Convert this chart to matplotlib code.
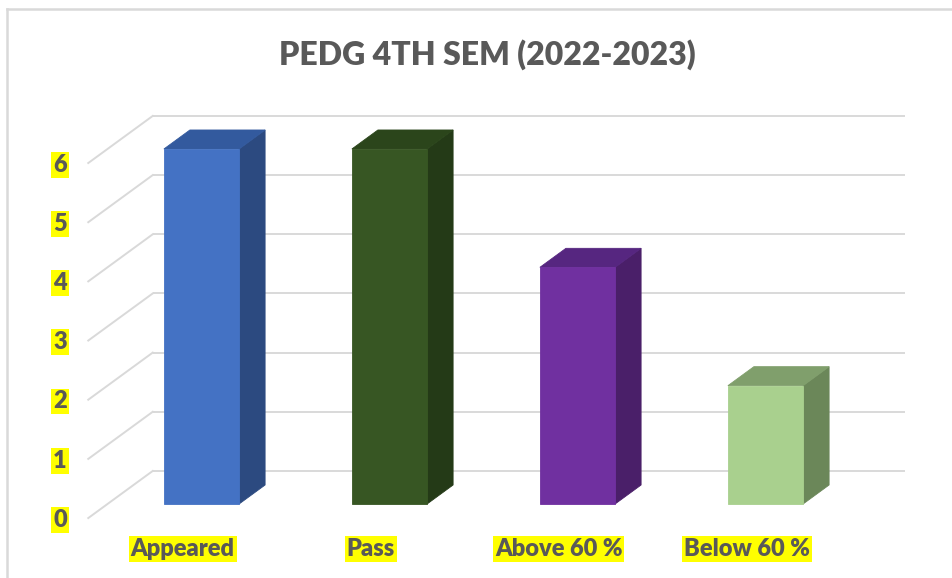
import numpy as np
import matplotlib
matplotlib.use("Agg")
import matplotlib.pyplot as plt
from matplotlib.patches import Polygon

categories = ["Appeared", "Pass", "Above 60 %", "Below 60 %"]
values = [6, 6, 4, 2]
yticks = [0, 1, 2, 3, 4, 5, 6]
title = "PEDG 4TH SEM (2022-2023)"

front_colors = ["#4472C4", "#375623", "#7030A0", "#A9D08E"]
side_colors = ["#2C4A80", "#243A17", "#4A1F69", "#6B8759"]
top_colors = ["#335A9E", "#2B451B", "#562680", "#809F6C"]

W, H = 953, 578
fig = plt.figure(figsize=(W / 100, H / 100), dpi=100)
ax = fig.add_axes([0, 0, 1, 1])

# pixel layout -> data units (one category = 188 px, one unit = 59.17 px)
px_cat, px_val = 188.0, 59.17
x0_px, y0_px = 201.5, 504.0
ax.set_xlim((0 - x0_px) / px_cat, (W - x0_px) / px_cat)
ax.set_ylim((y0_px - H) / px_val, y0_px / px_val)
ax.axis("off")

# depth vector of one bar (26 px right, 19 px up)
dx, dy = 26 / px_cat, 19 / px_val
k_back, k_front = 1.74, -0.74
grid_c = "#D9D9D9"
xl, xr = -0.5, 3.5
lab = dict(fontsize=17, fontweight="heavy", color="#595959", family="Lato",
           bbox=dict(boxstyle="square,pad=0.08", fc="#FFFF00", ec="none"),
           zorder=3)

for v in yticks:
    ax.plot([xl + k_back * dx, xr + k_back * dx], [v + k_back * dy] * 2,
            color=grid_c, lw=1.4, zorder=1, solid_capstyle="butt")
    ax.plot([xl + k_front * dx, xl + k_back * dx],
            [v + k_front * dy, v + k_back * dy],
            color=grid_c, lw=1.4, zorder=1)
    ax.text(-0.753, v + k_front * dy - 0.03, str(v), ha="center", va="center", **lab)

bw = 0.4
for i, (cat, val) in enumerate(zip(categories, values)):
    l, r = i - bw / 2, i + bw / 2
    front = [(l, 0), (r, 0), (r, val), (l, val)]
    side = [(r, 0), (r + dx, dy), (r + dx, val + dy), (r, val)]
    top = [(l, val), (r, val), (r + dx, val + dy), (l + dx, val + dy)]
    ax.add_patch(Polygon(side, closed=True, fc=side_colors[i],
                         ec=side_colors[i], lw=0.6, zorder=2))
    ax.add_patch(Polygon(top, closed=True, fc=top_colors[i],
                         ec=top_colors[i], lw=0.6, zorder=2))
    ax.add_patch(Polygon(front, closed=True, fc=front_colors[i],
                         ec=front_colors[i], lw=0.6, zorder=2))
    ax.text(i - 0.10, -0.76, cat, ha="center", va="center", **lab)

fig.text(487 / W, 1 - 55 / H, title, ha="center", va="center",
         fontsize=23, fontweight="heavy", color="#595959", family="Lato")

# outer chart frame (top and left edges visible)
fig.add_artist(plt.Line2D([7 / W, 7 / W], [0, 1 - 9 / H], color="#D9D9D9", lw=1.8))
fig.add_artist(plt.Line2D([7 / W, 1], [1 - 9 / H, 1 - 9 / H], color="#D9D9D9", lw=1.8))

fig.savefig("out.png", dpi=100)
